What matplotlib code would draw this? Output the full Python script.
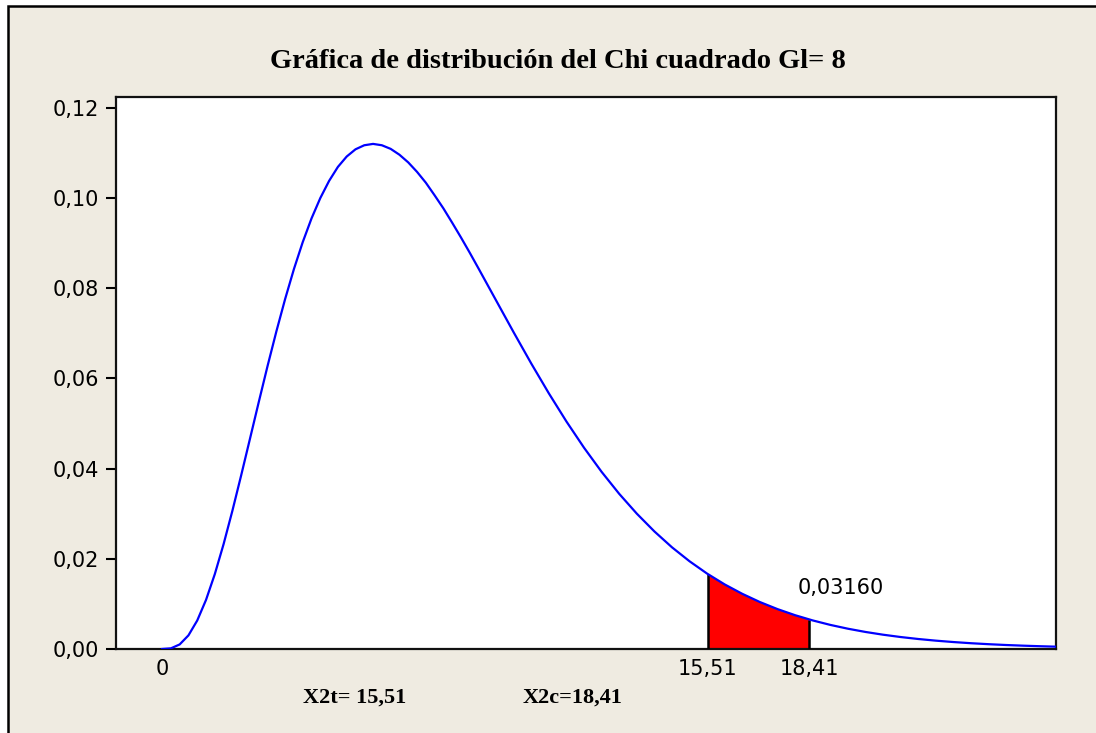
import matplotlib.pyplot as plt
from matplotlib.patches import Rectangle

# Chi-square density (gl = 8)
x_vals = [0, 0.25, 0.5, 0.75, 1, 1.25, 1.5, 1.75, 2, 2.25, 2.5, 2.75, 3, 3.25,
          3.5, 3.75, 4, 4.25, 4.5, 4.75, 5, 5.25, 5.5, 5.75, 6, 6.25, 6.5, 6.75,
          7, 7.25, 7.5, 7.75, 8, 8.25, 8.5, 8.75, 9, 9.5, 10, 10.5, 11, 11.5,
          12, 12.5, 13, 13.5, 14, 14.5, 15, 15.5, 16, 16.5, 17, 17.5, 18, 18.5,
          19, 19.5, 20, 20.5, 21, 21.5, 22, 22.5, 23, 23.5, 24, 24.5, 25, 25.4]
y_vals = [0.0, 0.000144, 0.00101, 0.00302, 0.00632, 0.01089, 0.01661, 0.02327,
          0.03066, 0.03853, 0.04663, 0.05477, 0.06276, 0.07041, 0.07762, 0.08426,
          0.09022, 0.09548, 0.1000, 0.1038, 0.1069, 0.1092, 0.1108, 0.1117,
          0.1120, 0.1117, 0.1109, 0.1096, 0.1079, 0.1058, 0.1034, 0.1006,
          0.0977, 0.09452, 0.09125, 0.08786, 0.08436, 0.07727, 0.07019, 0.06328,
          0.05667, 0.05043, 0.04462, 0.03927, 0.0344, 0.03001, 0.02607, 0.02255,
          0.01945, 0.01671, 0.01431, 0.01223, 0.01041, 0.008847, 0.007497,
          0.006339, 0.005348, 0.004502, 0.003783, 0.003173, 0.002657, 0.00222,
          0.001852, 0.001544, 0.001284, 0.001067, 0.000884, 0.000733, 0.000607,
          0.000521]

# shaded region limits and their heights
x_tabla, x_calc = 15.51, 18.41
y_tabla, y_calc = 0.01663, 0.00653
area_label = '0,03160'

y_ticks = [0.00, 0.02, 0.04, 0.06, 0.08, 0.10, 0.12]
x_ticks = [0, x_tabla, x_calc]
x_tick_labels = ['0', '15,51', '18,41']

W, H = 1096, 733
fig = plt.figure(figsize=(W / 100, H / 100), dpi=100)
fig.patch.set_facecolor('white')

# beige panel with black frame (only top/left edges visible)
panel = Rectangle((8 / W, -0.05), 1.1, 1 - 6 / H + 0.05,
                  transform=fig.transFigure, facecolor='#EFEBE1',
                  edgecolor='black', linewidth=1.8, zorder=-10)
fig.add_artist(panel)

ax = fig.add_axes([116 / W, 84 / H, 940 / W, 552 / H])
ax.set_zorder(1)
ax.set_facecolor('white')

# shaded area between the two critical values
fx = [x_tabla] + [x for x in x_vals if x_tabla < x < x_calc] + [x_calc]
fy = [y_tabla] + [y for x, y in zip(x_vals, y_vals) if x_tabla < x < x_calc] + [y_calc]
ax.fill_between(fx, 0, fy, color='#FF0000', linewidth=0, zorder=2)
ax.vlines([x_tabla, x_calc], 0, [y_tabla, y_calc], color='black', linewidth=1.8, zorder=3)

ax.plot(x_vals, y_vals, color='#0000FF', linewidth=1.6, zorder=4)

ax.text(19.3, 0.0135, area_label, fontsize=15, ha='center', va='center')

ax.set_xlim(-1.31, 25.42)
ax.set_ylim(0, 0.1224)
ax.set_yticks(y_ticks)
ax.set_yticklabels([f'{v:.2f}'.replace('.', ',') for v in y_ticks], fontsize=15)
ax.set_xticks(x_ticks)
ax.set_xticklabels(x_tick_labels, fontsize=15)
ax.tick_params(axis='y', length=7, width=1.5, pad=5)
ax.tick_params(axis='x', length=0, pad=7)
for s in ax.spines.values():
    s.set_linewidth(1.6)
    s.set_color('#111111')

serif = ['Liberation Serif', 'DejaVu Serif']
fig.text(558 / W, 1 - 62 / H, 'Gráfica de distribución del Chi cuadrado Gl= 8',
         family=serif, fontweight='bold', fontsize=20.5, ha='center', va='center')
fig.text(355 / W, 1 - 698 / H, 'X2t= 15,51', family=serif, fontweight='bold',
         fontsize=16, ha='center', va='center')
fig.text(573 / W, 1 - 698 / H, 'X2c=18,41', family=serif, fontweight='bold',
         fontsize=16, ha='center', va='center')

fig.savefig('out.png', dpi=100)
